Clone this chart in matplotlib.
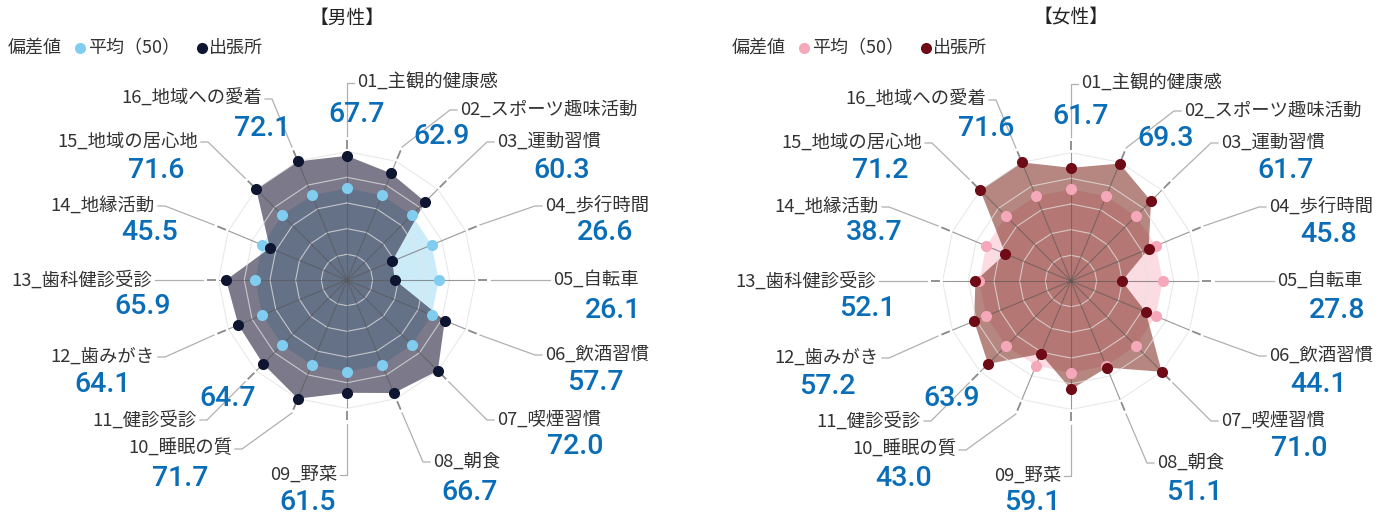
import numpy as np
import matplotlib
matplotlib.use("Agg")
import matplotlib.pyplot as plt

# ---------------- data ----------------
categories = ["01_主観的健康感", "02_スポーツ趣味活動", "03_運動習慣", "04_歩行時間",
              "05_自転車", "06_飲酒習慣", "07_喫煙習慣", "08_朝食", "09_野菜",
              "10_睡眠の質", "11_健診受診", "12_歯みがき", "13_歯科健診受診",
              "14_地縁活動", "15_地域の居心地", "16_地域への愛着"]
male_values = [67.7, 62.9, 60.3, 26.6, 26.1, 57.7, 72.0, 66.7, 61.5, 71.7, 64.7, 64.1, 65.9, 45.5, 71.6, 72.1]
female_values = [61.7, 69.3, 61.7, 45.8, 27.8, 44.1, 71.0, 51.1, 59.1, 43.0, 63.9, 57.2, 52.1, 38.7, 71.2, 71.6]
average_values = [50] * 16
panel_titles = ["【男性】", "【女性】"]
legend_prefix = "偏差値"
series_names = ["平均（50）", "出張所"]
r_max = 70
ring_levels = [14, 28, 42, 56, 70]

# ---------------- layout / style ----------------
W, H = 1392, 520
DPI = 100
centers = [(347, 280), (1071, 281)]
R_PX = 128.4                      # pixel radius of r_max
SCALE = R_PX / r_max

# label anchor (near edge) relative to the chart centre (pixels, y down)
label_layout = [(10, -197, "left"), (113, -170, "left"), (150, -138, "left"), (198, -74, "left"),
                (206, 0, "left"), (198, 75, "left"), (150, 140, "left"), (86, 182, "left"),
                (-10, 195, "right"), (-115, 169, "right"), (-150, 140, "right"), (-192, 77, "right"),
                (-195, 0, "right"), (-192, -74, "right"), (-149, -138, "right"), (-85, -181, "right")]
value_layout = [(10, -165), (95, -143), (215, -110), (258, -47), (266, 30), (248, 103),
                (228, 167), (123, 212), (-39, 222), (-167, 198), (-119, 118), (-244, 105),
                (-204, 27), (-197, -48), (-191, -110), (-85, -152)]

panel_styles = [
    dict(avg="#80cdf0", avg_alpha=0.40, main="#0d1530", fill="#15122e", fill_alpha=0.56),
    dict(avg="#f5a8b9", avg_alpha=0.40, main="#6e0b16", fill="#7a2418", fill_alpha=0.55),
]
CJK = ["Noto Sans CJK JP", "DejaVu Sans"]
NUM = ["Roboto", "DejaVu Sans"]
TEXT_COLOR = "#333333"
VALUE_COLOR = "#0a6db8"

fig = plt.figure(figsize=(W / DPI, H / DPI), dpi=DPI)
over = fig.add_axes([0, 0, 1, 1])
over.set_xlim(0, W)
over.set_ylim(H, 0)
over.axis("off")

n = len(categories)
theta = np.deg2rad(np.arange(n) * 360.0 / n)
theta_c = np.append(theta, theta[0])


def pt(cx, cy, th, r):
    return cx + r * SCALE * np.sin(th), cy - r * SCALE * np.cos(th)


for p, (values, (cx, cy), st, title) in enumerate(zip([male_values, female_values], centers,
                                                      panel_styles, panel_titles)):
    ax = fig.add_axes([(cx - R_PX) / W, (H - cy - R_PX) / H, 2 * R_PX / W, 2 * R_PX / H],
                      projection="polar")
    ax.set_theta_zero_location("N")
    ax.set_theta_direction(-1)
    ax.set_ylim(0, r_max)
    ax.axis("off")

    vals = np.clip(np.array(values, dtype=float), 0, r_max)
    avg = np.clip(np.array(average_values, dtype=float), 0, r_max)
    vals_c = np.append(vals, vals[0])
    avg_c = np.append(avg, avg[0])

    ax.fill(theta_c, avg_c, color=st["avg"], alpha=st["avg_alpha"], lw=0, zorder=1)
    ax.fill(theta_c, vals_c, color=st["fill"], alpha=st["fill_alpha"], lw=0, zorder=2)
    for lv in ring_levels:
        ax.plot(theta_c, [lv] * (n + 1), color="#e2e2e2", lw=0.8, alpha=0.75, zorder=3)
    for th in theta:
        ax.plot([th, th], [0, r_max], color="#555555", lw=0.8, alpha=0.6, zorder=3)
    ax.plot(theta, avg, "o", color=st["avg"], ms=8, mec="none", zorder=5, clip_on=False)
    ax.plot(theta, vals, "o", color=st["main"], ms=8, mec="none", zorder=6, clip_on=False)

    # leaders, labels and values
    for i, th in enumerate(theta):
        x1, y1 = pt(cx, cy, th, 71.5)
        x2, y2 = pt(cx, cy, th, 76.5)
        over.plot([x1, x2], [y1, y2], color="#8a8a8a", lw=1.3, solid_capstyle="butt")
        sx, sy = pt(cx, cy, th, 78.5)
        dx, dy, ha = label_layout[i]
        lx, ly = cx + dx, cy + dy
        sgn = -1 if ha == "left" else 1
        ex, ax_ = lx + sgn * 10, lx + sgn * 3
        over.plot([sx, ex, ax_], [sy, ly, ly], color="#b0b0b0", lw=0.9)
        over.text(lx, ly, categories[i], ha=ha, va="center", fontsize=13.2,
                  family=CJK, color=TEXT_COLOR)
        vx, vy = value_layout[i]
        over.text(cx + vx, cy + vy, f"{values[i]:.1f}", ha="center", va="center",
                  fontsize=20.5, fontweight="medium", family=NUM, color=VALUE_COLOR)

    # title and legend
    over.text(cx, 18, title, ha="center", va="center", fontsize=13.5, family=CJK, color="#222222")
    lx0 = cx - 339
    over.text(lx0, 48, legend_prefix, ha="left", va="center", fontsize=13, family=CJK,
              color=TEXT_COLOR)
    over.plot([lx0 + 72], [48], "o", color=st["avg"], ms=8, mec="none")
    over.text(lx0 + 80, 48, series_names[0], ha="left", va="center", fontsize=13, family=CJK,
              color=TEXT_COLOR)
    over.plot([lx0 + 194], [48], "o", color=st["main"], ms=8, mec="none")
    over.text(lx0 + 201, 48, series_names[1], ha="left", va="center", fontsize=13, family=CJK,
              color=TEXT_COLOR)

fig.savefig("out.png", dpi=DPI)
